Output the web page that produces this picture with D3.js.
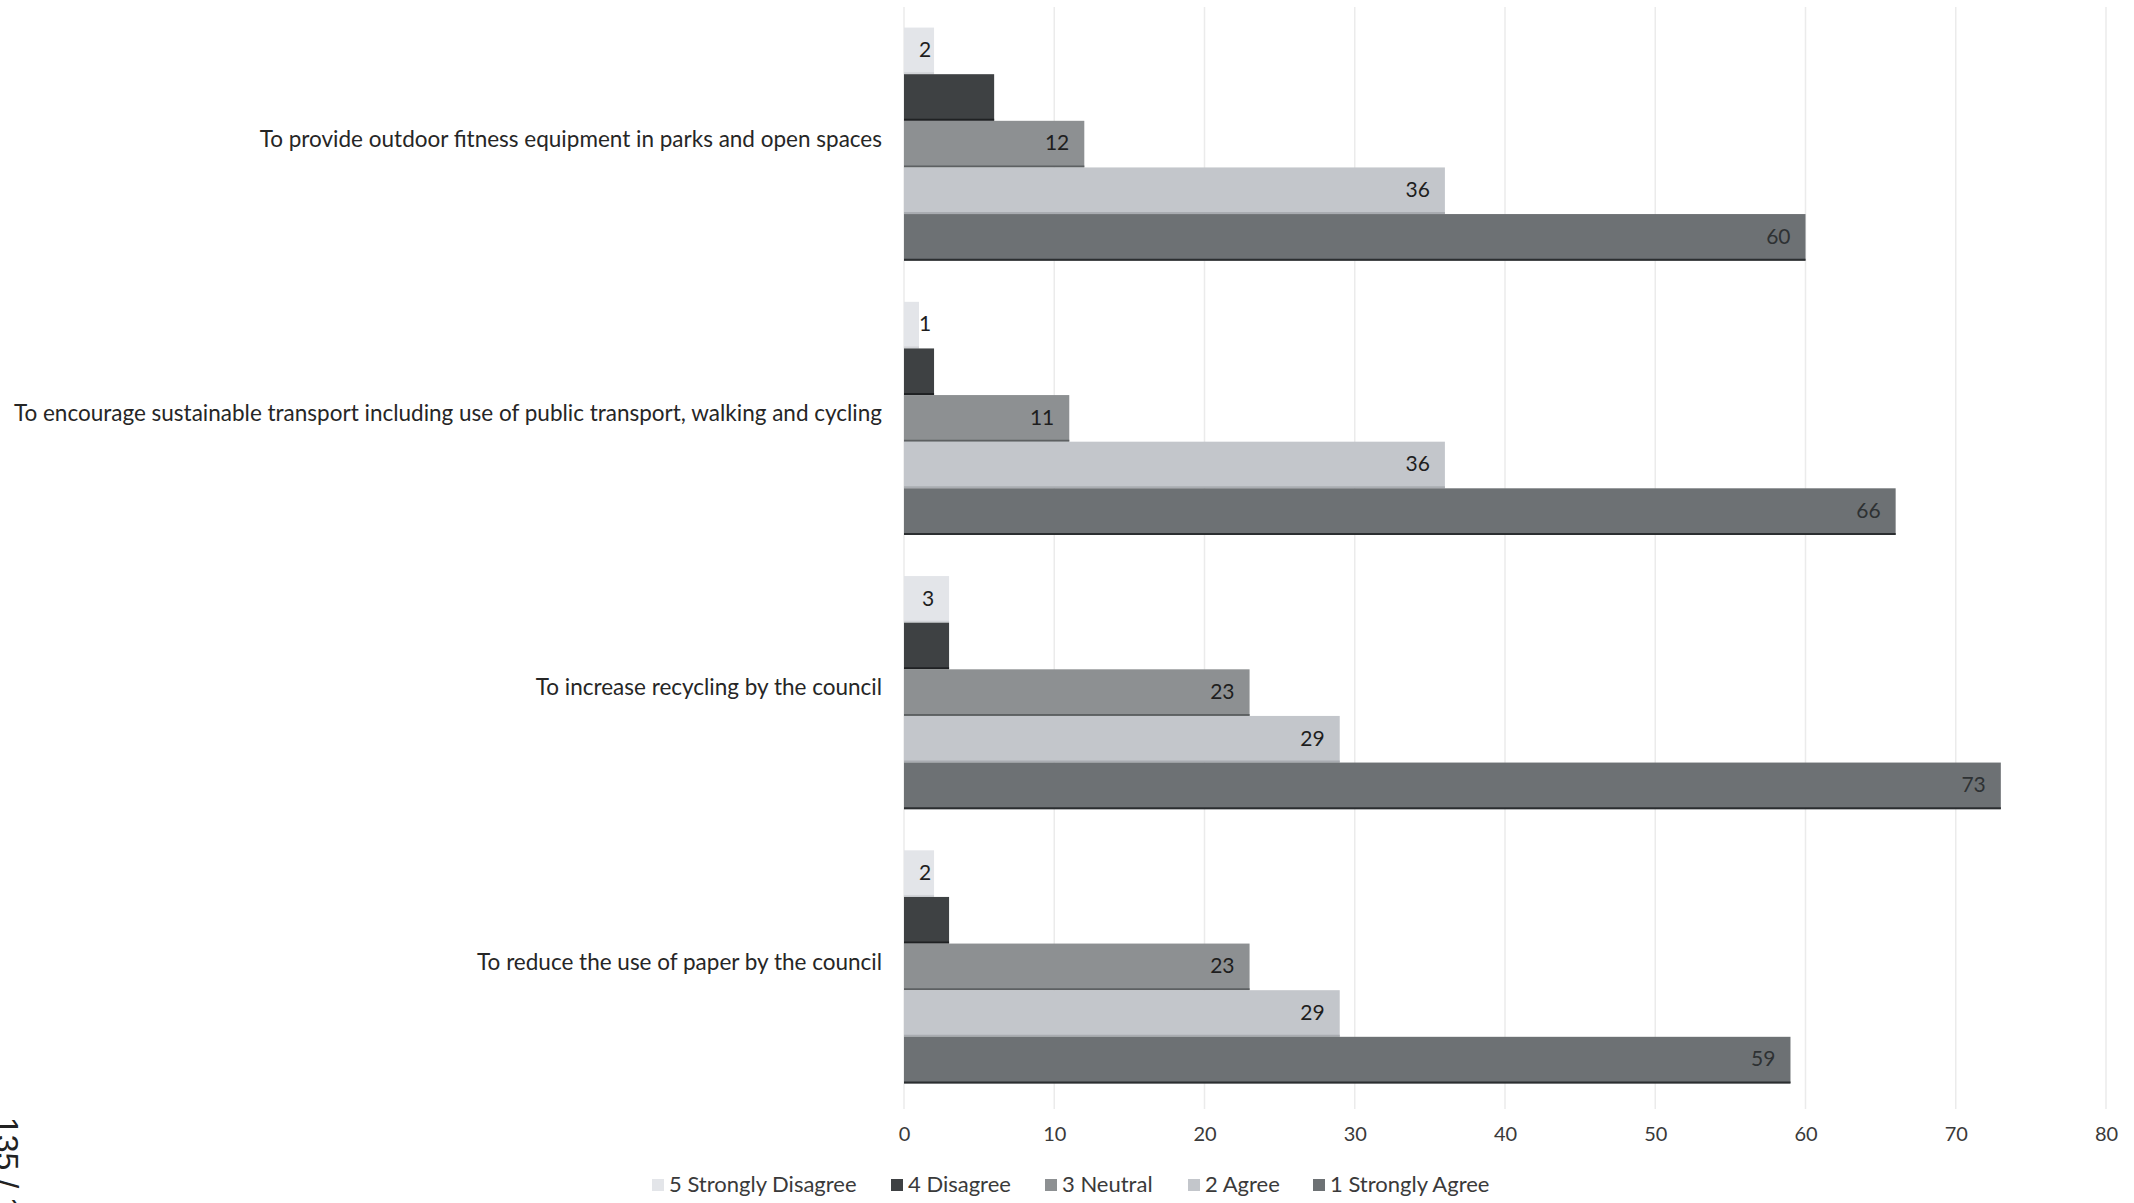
<!DOCTYPE html>
<html>
<head>
<meta charset="utf-8">
<script src="https://cdn.jsdelivr.net/npm/d3@7"></script>
<style>
  html, body { margin: 0; padding: 0; background: #ffffff; }
  svg { display: block; }
  text { font-family: Lato, "Open Sans", "Liberation Sans", sans-serif; }
</style>
</head>
<body>
<svg id="chart" width="2134" height="1203"></svg>
<script>
// Survey questions (top to bottom)
const categories = [
  "To provide outdoor fitness equipment in parks and open spaces",
  "To encourage sustainable transport including use of public transport, walking and cycling",
  "To increase recycling by the council",
  "To reduce the use of paper by the council"
];

// Response options, in the order the bars are stacked inside each group
const seriesNames = ["5 Strongly Disagree", "4 Disagree", "3 Neutral", "2 Agree", "1 Strongly Agree"];

// Number of responses per question
const stronglyDisagree = [2, 1, 3, 2];
const disagree         = [6, 2, 3, 3];
const neutral          = [12, 11, 23, 23];
const agree            = [36, 36, 29, 29];
const stronglyAgree    = [60, 66, 73, 59];

const xTicks = [0, 10, 20, 30, 40, 50, 60, 70, 80];
const pageNumber = "135 / 1";

const seriesValues = [stronglyDisagree, disagree, neutral, agree, stronglyAgree];
const fills   = ["#e3e5e9", "#3e4143", "#8d9092", "#c3c6cb", "#6d7174"];
const edges   = ["#d2d4d8", "#1f2123", "#5d6062", "#a9acb1", "#2b2e30"];
const showLab = [true, false, true, true, true];

const svg = d3.select("#chart");

const plot = { left: 904, right: 2106, top: 7, bottom: 1104 };

const x = d3.scaleLinear().domain([0, 80]).range([plot.left, plot.right]);
const y = d3.scaleBand().domain(categories).range([plot.top, plot.bottom]).paddingInner(0.15).paddingOuter(0.075);
const ySub = d3.scaleBand().domain(seriesNames).range([0, y.bandwidth()]);

// Vertical gridlines
svg.append("g")
  .selectAll("line")
  .data(xTicks)
  .join("line")
  .attr("x1", d => x(d)).attr("x2", d => x(d))
  .attr("y1", plot.top).attr("y2", plot.bottom + 5)
  .attr("stroke", "#ebebeb")
  .attr("stroke-width", 1.5);

// Tick labels along the bottom
const xAxis = d3.axisBottom(x).tickValues(xTicks).tickSize(0).tickPadding(0);
const axisG = svg.append("g")
  .attr("transform", `translate(0, ${plot.bottom + 23})`)
  .call(xAxis);
axisG.select(".domain").remove();
axisG.selectAll("text")
  .attr("font-size", 20)
  .attr("fill", "#3a3a3a")
  .style("font-family", "Lato, sans-serif");

// Category labels
svg.append("g")
  .selectAll("text")
  .data(categories)
  .join("text")
  .attr("x", 882)
  .attr("y", d => y(d) + y.bandwidth() / 2 - 3)
  .attr("text-anchor", "end")
  .attr("dominant-baseline", "middle")
  .attr("font-size", 22.5)
  .attr("fill", "#262626")
  .text(d => d);

// Bars
const rows = [];
categories.forEach((c, i) => {
  seriesNames.forEach((s, k) => {
    rows.push({ cat: c, series: s, k, value: seriesValues[k][i] });
  });
});

const barG = svg.append("g");
const groups = barG.selectAll("g.bar")
  .data(rows)
  .join("g")
  .attr("class", "bar")
  .attr("transform", d => `translate(0, ${y(d.cat) + ySub(d.series)})`);

groups.append("rect")
  .attr("x", x(0))
  .attr("y", 0)
  .attr("width", d => x(d.value) - x(0))
  .attr("height", ySub.bandwidth())
  .attr("fill", d => fills[d.k]);

// darker lower edge of each bar
groups.append("line")
  .attr("x1", x(0))
  .attr("x2", d => x(d.value))
  .attr("y1", ySub.bandwidth() - 1)
  .attr("y2", ySub.bandwidth() - 1)
  .attr("stroke", d => edges[d.k])
  .attr("stroke-width", 2);

// Value labels at the inner end of each bar
groups.filter(d => showLab[d.k])
  .append("text")
  .attr("y", ySub.bandwidth() / 2 + 1)
  .attr("dominant-baseline", "middle")
  .attr("text-anchor", "end")
  .attr("font-size", 21)
  .attr("fill", d => d.k === 4 ? "#2e3133" : "#1e1e1e")
  .text(d => d.value)
  .attr("x", function (d) {
    const w = this.getComputedTextLength();
    return Math.max(x(d.value) - 15, x(0) + 15 + w);
  });

// Legend
const legendItems = [
  { name: seriesNames[0], x: 652 },
  { name: seriesNames[1], x: 891 },
  { name: seriesNames[2], x: 1045 },
  { name: seriesNames[3], x: 1188 },
  { name: seriesNames[4], x: 1313 }
];
const legY = 1185;
const leg = svg.append("g")
  .selectAll("g")
  .data(legendItems)
  .join("g")
  .attr("transform", d => `translate(${d.x}, ${legY})`);
leg.append("rect")
  .attr("x", 0).attr("y", -6)
  .attr("width", 12).attr("height", 12)
  .attr("fill", (d, i) => fills[i]);
leg.append("text")
  .attr("x", 17)
  .attr("y", 1)
  .attr("dominant-baseline", "middle")
  .attr("font-size", 22)
  .attr("fill", "#3a3a3a")
  .text(d => d.name);

// Page number running down the left margin
svg.append("text")
  .attr("transform", "translate(-4, 1117) rotate(90)")
  .attr("font-size", 32)
  .attr("fill", "#222")
  .style("font-family", "'Liberation Sans', sans-serif")
  .text(pageNumber);
</script>
</body>
</html>
